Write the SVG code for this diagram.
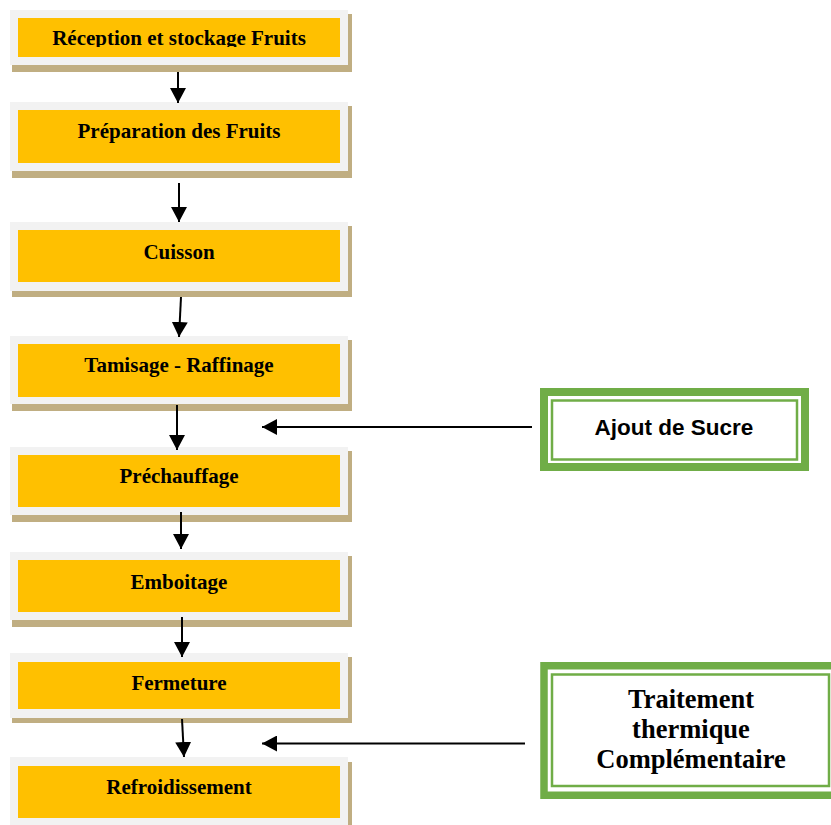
<svg xmlns="http://www.w3.org/2000/svg" width="831" height="825" viewBox="0 0 831 825">
<defs>
<style>
.sh{fill:#C0AE82}
.fr{fill:#F2F2F2}
.in{fill:#FFC000}
.lb{font-family:"Liberation Serif","Times New Roman",serif;font-weight:bold;font-size:21px;fill:#000;text-anchor:middle}
.gb{fill:#fff;stroke:#70AD47}
.ln{stroke:#000;stroke-width:2;fill:none;marker-end:url(#ah)}
.sans{font-family:"Liberation Sans",Arial,sans-serif;font-weight:bold;font-size:22.5px;fill:#000;text-anchor:middle}
.ser{font-family:"Liberation Serif","Times New Roman",serif;font-weight:bold;font-size:26.5px;fill:#000;text-anchor:middle}
</style>
<marker id="ah" markerUnits="userSpaceOnUse" markerWidth="16" markerHeight="16" viewBox="0 0 16 16" refX="15" refY="8" orient="auto">
<path d="M0,0 L15,8 L0,16 Z" fill="#000"/>
</marker>
<clipPath id="c1"><rect x="18" y="18" width="322" height="29"/></clipPath>
</defs>
<g id="n1">
<rect class="sh" x="12" y="14" width="340" height="58"/>
<rect class="fr" x="10" y="10" width="338" height="55"/>
<rect class="in" x="18" y="18" width="322" height="39"/>
<text class="lb" x="179" y="45" clip-path="url(#c1)">Réception et stockage Fruits</text>
</g>
<g id="n2">
<rect class="sh" x="12" y="106" width="340" height="72"/>
<rect class="fr" x="10" y="102" width="338" height="69"/>
<rect class="in" x="18" y="110" width="322" height="53"/>
<text class="lb" x="179" y="138">Préparation des Fruits</text>
</g>
<g id="n3">
<rect class="sh" x="12" y="226" width="340" height="71"/>
<rect class="fr" x="10" y="222" width="338" height="69"/>
<rect class="in" x="18" y="230" width="322" height="52"/>
<text class="lb" x="179" y="259">Cuisson</text>
</g>
<g id="n4">
<rect class="sh" x="12" y="340" width="340" height="71"/>
<rect class="fr" x="10" y="336" width="338" height="68"/>
<rect class="in" x="18" y="344" width="322" height="53"/>
<text class="lb" x="179" y="372">Tamisage - Raffinage</text>
</g>
<g id="n5">
<rect class="sh" x="12" y="451" width="340" height="71"/>
<rect class="fr" x="10" y="447" width="338" height="68"/>
<rect class="in" x="18" y="455" width="322" height="52"/>
<text class="lb" x="179" y="483">Préchauffage</text>
</g>
<g id="n6">
<rect class="sh" x="12" y="556" width="340" height="71"/>
<rect class="fr" x="10" y="552" width="338" height="68"/>
<rect class="in" x="18" y="560" width="322" height="52"/>
<text class="lb" x="179" y="589">Emboitage</text>
</g>
<g id="n7">
<rect class="sh" x="12" y="657" width="340" height="66"/>
<rect class="fr" x="10" y="653" width="338" height="65"/>
<rect class="in" x="18" y="662" width="322" height="47"/>
<text class="lb" x="179" y="690">Fermeture</text>
</g>
<g id="n8">
<rect class="sh" x="12" y="762" width="340" height="75"/>
<rect class="fr" x="10" y="757" width="338" height="75"/>
<rect class="in" x="18" y="766" width="322" height="52"/>
<text class="lb" x="179" y="794">Refroidissement</text>
</g>
<g id="n9">
<rect class="gb" x="544" y="392" width="261" height="75" stroke-width="8"/>
<rect class="gb" x="552" y="400.5" width="245" height="59" stroke-width="2.5"/>
<text class="sans" x="674" y="435">Ajout de Sucre</text>
</g>
<g id="n10">
<rect class="gb" x="544" y="665.75" width="300" height="129.5" stroke-width="7.5"/>
<rect class="gb" x="552" y="674.5" width="277" height="111.5" stroke-width="2.5"/>
<text class="ser" x="691" y="708">Traitement</text>
<text class="ser" x="691" y="738">thermique</text>
<text class="ser" x="691" y="768">Complémentaire</text>
</g>
<g id="connectors">
<line class="ln" x1="178" y1="72" x2="178" y2="103"/>
<line class="ln" x1="179" y1="183" x2="179" y2="222"/>
<line class="ln" x1="181" y1="297" x2="179" y2="337"/>
<line class="ln" x1="177" y1="405" x2="177" y2="450"/>
<line class="ln" x1="181" y1="512" x2="181" y2="549"/>
<line class="ln" x1="182" y1="617" x2="182" y2="657"/>
<line class="ln" x1="182" y1="719" x2="184" y2="757"/>
<line class="ln" x1="532" y1="427" x2="262" y2="427"/>
<line class="ln" x1="525" y1="743.5" x2="262" y2="743.5"/>
</g>
</svg>
